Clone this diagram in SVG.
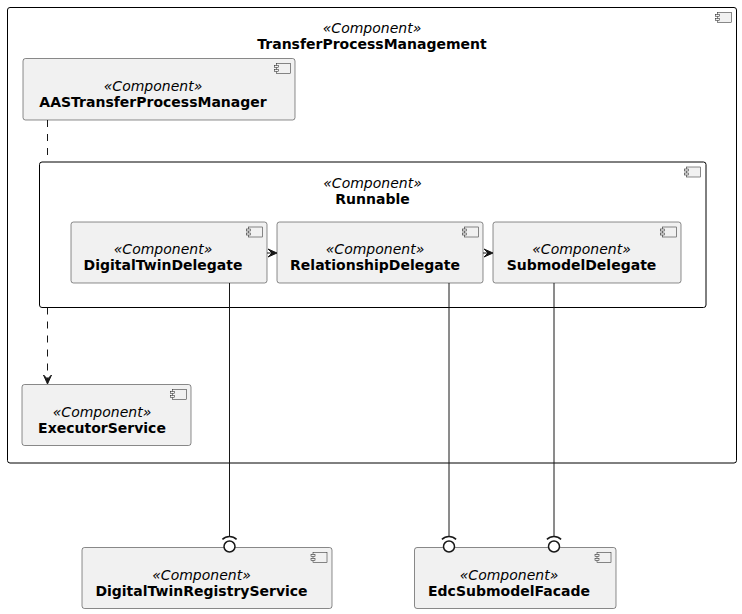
<svg xmlns="http://www.w3.org/2000/svg" width="742" height="614" viewBox="0 0 742 614">
<style>
  .cont{fill:none;stroke:#000000;stroke-width:1}
  .comp{fill:#F1F1F1;stroke:#181818;stroke-width:0.5}
  .ic{fill:#F1F1F1;stroke:#181818;stroke-width:0.5}
  .st{font-family:"DejaVu Sans",sans-serif;font-size:14px;font-style:italic;fill:#000;text-anchor:middle}
  .nm{font-family:"DejaVu Sans",sans-serif;font-size:14px;font-weight:bold;fill:#000;text-anchor:middle}
  .ln{fill:none;stroke:#181818;stroke-width:1}
  .dash{fill:none;stroke:#181818;stroke-width:1;stroke-dasharray:7,7}
  .ah{fill:#181818;stroke:#181818;stroke-width:1}
  .ball{fill:#FFFFFF;stroke:#181818;stroke-width:1.5}
  .sock{fill:none;stroke:#181818;stroke-width:1.5}
</style>
<defs>
  <g id="icon">
    <rect class="ic" x="0" y="0" width="14" height="10"/>
    <rect class="ic" x="-2" y="2" width="4" height="2"/>
    <rect class="ic" x="-2" y="6" width="4" height="2"/>
  </g>
</defs>
<rect width="742" height="614" fill="#FFFFFF"/>

<g id="TransferProcessManagement">
  <rect class="cont" x="7.5" y="7.5" width="729" height="455.5" rx="2.5"/>
  <use href="#icon" x="717.5" y="12.5"/>
  <text class="st" x="372" y="33">«Component»</text>
  <text class="nm" x="372" y="49">TransferProcessManagement</text>
</g>

<g id="Runnable">
  <rect class="cont" x="39.5" y="162" width="666.5" height="145.5" rx="2.5"/>
  <use href="#icon" x="686.5" y="167"/>
  <text class="st" x="372.5" y="188">«Component»</text>
  <text class="nm" x="372.5" y="204">Runnable</text>
</g>

<g id="AASTransferProcessManager">
  <rect class="comp" x="23" y="58.5" width="272" height="61.5" rx="2.5"/>
  <use href="#icon" x="276.5" y="63.5"/>
  <text class="st" x="153" y="91">«Component»</text>
  <text class="nm" x="153" y="107">AASTransferProcessManager</text>
</g>

<g id="DigitalTwinDelegate">
  <rect class="comp" x="71" y="222" width="196" height="61" rx="2.5"/>
  <use href="#icon" x="248.5" y="227"/>
  <text class="st" x="163" y="254">«Component»</text>
  <text class="nm" x="163" y="270">DigitalTwinDelegate</text>
</g>

<g id="RelationshipDelegate">
  <rect class="comp" x="277" y="222" width="206" height="61" rx="2.5"/>
  <use href="#icon" x="464.5" y="227"/>
  <text class="st" x="375" y="254">«Component»</text>
  <text class="nm" x="375" y="270">RelationshipDelegate</text>
</g>

<g id="SubmodelDelegate">
  <rect class="comp" x="493" y="222" width="188" height="61" rx="2.5"/>
  <use href="#icon" x="662.5" y="227"/>
  <text class="st" x="581.5" y="254">«Component»</text>
  <text class="nm" x="581.5" y="270">SubmodelDelegate</text>
</g>

<g id="ExecutorService">
  <rect class="comp" x="22" y="384.5" width="169" height="61" rx="2.5"/>
  <use href="#icon" x="172.5" y="389.5"/>
  <text class="st" x="102" y="417">«Component»</text>
  <text class="nm" x="102" y="433">ExecutorService</text>
</g>

<g id="DigitalTwinRegistryService">
  <rect class="comp" x="82" y="547.5" width="250" height="61" rx="2.5"/>
  <use href="#icon" x="313" y="552.5"/>
  <text class="st" x="201.5" y="580">«Component»</text>
  <text class="nm" x="201.5" y="596">DigitalTwinRegistryService</text>
</g>

<g id="EdcSubmodelFacade">
  <rect class="comp" x="414.5" y="547.5" width="201.5" height="61" rx="2.5"/>
  <use href="#icon" x="597" y="552.5"/>
  <text class="st" x="509" y="580">«Component»</text>
  <text class="nm" x="509" y="596">EdcSubmodelFacade</text>
</g>

<g id="connectors">
  <!-- AASTransferProcessManager .. Runnable -->
  <path class="dash" d="M47.5,120 L47.5,162"/>
  <!-- Runnable ..> ExecutorService -->
  <path class="dash" d="M47.5,307.5 L47.5,382"/>
  <polygon class="ah" points="47.5,384 43.5,375 47.5,379 51.5,375"/>
  <!-- DigitalTwinDelegate -> RelationshipDelegate -->
  <path class="ln" d="M267,253 L275,253"/>
  <polygon class="ah" points="277,253 268,249 272,253 268,257"/>
  <!-- RelationshipDelegate -> SubmodelDelegate -->
  <path class="ln" d="M483,253 L491,253"/>
  <polygon class="ah" points="493,253 484,249 488,253 484,257"/>
  <!-- DigitalTwinDelegate -( DigitalTwinRegistryService -->
  <path class="ln" d="M229.5,283 L229.5,536.5"/>
  <path class="sock" d="M222.4,539.4 A10,10 0 0 1 236.6,539.4"/>
  <circle class="ball" cx="229.5" cy="546.5" r="5.5"/>
  <!-- RelationshipDelegate -( EdcSubmodelFacade -->
  <path class="ln" d="M449,283 L449,536.5"/>
  <path class="sock" d="M441.9,539.4 A10,10 0 0 1 456.1,539.4"/>
  <circle class="ball" cx="449" cy="546.5" r="5.5"/>
  <!-- SubmodelDelegate -( EdcSubmodelFacade -->
  <path class="ln" d="M554,283 L554,536.5"/>
  <path class="sock" d="M546.9,539.4 A10,10 0 0 1 561.1,539.4"/>
  <circle class="ball" cx="554" cy="546.5" r="5.5"/>
</g>
</svg>
